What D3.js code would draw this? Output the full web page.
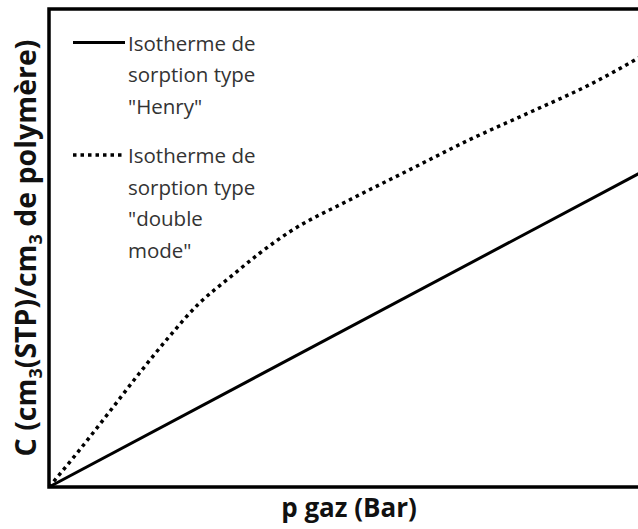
<!DOCTYPE html>
<html>
<head>
<meta charset="utf-8">
<script src="https://cdn.jsdelivr.net/npm/d3@7"></script>
<style>
  html, body { margin: 0; padding: 0; background: #fff; overflow: hidden; }
  svg { display: block; }
  text { font-variant-ligatures: none; }
</style>
</head>
<body>
<svg id="chart" width="638" height="529"></svg>
<script>
// Gas pressure (arbitrary units) and sorbed concentration for the two isotherms
const pressure = [0, 0.5, 1, 1.5, 2, 2.5, 3, 3.5, 4, 5, 6, 7, 8, 9, 10];
const doubleMode = [0, 0.76, 1.56, 2.37, 3.14, 3.84, 4.37, 4.88, 5.33, 6.0, 6.63, 7.26, 7.83, 8.41, 9.1];
const henryPressure = [0, 10];
const henry = [0, 6.67];

const legendHenry = ["Isotherme de", "sorption type", "\"Henry\""];
const legendDouble = ["Isotherme de", "sorption type", "\"double", "mode\""];

const svg = d3.select("#chart");
const margin = { left: 49, top: 9, right: -11, bottom: 42 };
const W = 638, H = 529;
const FONT = "'Open Sans', 'Noto Sans', sans-serif";

const x = d3.scaleLinear().domain([0, 10]).range([margin.left, W - margin.right]);
const y = d3.scaleLinear().domain([0, 10]).range([H - margin.bottom, margin.top]);

const line = d3.line().x(d => x(d[0])).y(d => y(d[1]));

// Henry (linear) isotherm
svg.append("path")
  .datum(d3.zip(henryPressure, henry))
  .attr("d", line)
  .attr("fill", "none")
  .attr("stroke", "#000")
  .attr("stroke-width", 3);

// Dual-mode isotherm
svg.append("path")
  .datum(d3.zip(pressure, doubleMode))
  .attr("d", line.curve(d3.curveMonotoneX))
  .attr("fill", "none")
  .attr("stroke", "#000")
  .attr("stroke-width", 3.5)
  .attr("stroke-dasharray", "3.5 4");

// Frame: left, top and bottom borders (right side runs off the page)
svg.append("path")
  .attr("d", `M${x(10) + 20},${y(10)} H${x(0)} V${y(0)} H${x(10) + 20}`)
  .attr("fill", "none")
  .attr("stroke", "#000")
  .attr("stroke-width", 3.5)
  .attr("stroke-linejoin", "miter");

// Legend
const legend = svg.append("g").attr("font-family", FONT)
  .attr("font-size", 20.5).attr("fill", "#333");

function legendEntry(lines, top, dashed) {
  legend.append("line")
    .attr("x1", 73).attr("x2", 125)
    .attr("y1", top - 8).attr("y2", top - 8)
    .attr("stroke", "#000")
    .attr("stroke-width", dashed ? 3.5 : 3)
    .attr("stroke-dasharray", dashed ? "3.5 4" : null);
  lines.forEach((t, i) => {
    legend.append("text")
      .attr("x", 128)
      .attr("y", top + i * 31.5)
      .text(t);
  });
}
legendEntry(legendHenry, 50.5, false);
legendEntry(legendDouble, 163, true);

// Axis titles
svg.append("text")
  .attr("x", (x(0) + x(10)) / 2)
  .attr("y", 517)
  .attr("text-anchor", "middle")
  .attr("font-family", FONT)
  .attr("font-weight", "bold")
  .attr("font-size", 26)
  .attr("fill", "#111")
  .text("p gaz (Bar)");

const yTitle = svg.append("text")
  .attr("transform", `translate(36,${(y(0) + y(10)) / 2}) rotate(-90)`)
  .attr("text-anchor", "middle")
  .attr("font-family", FONT)
  .attr("font-weight", "bold")
  .attr("font-size", 28.5)
  .attr("fill", "#111");
yTitle.append("tspan").text("C (cm");
yTitle.append("tspan").attr("font-size", 18).attr("dy", 6).text("3");
yTitle.append("tspan").attr("dy", -6).text("(STP)/cm");
yTitle.append("tspan").attr("font-size", 18).attr("dy", 6).text("3");
yTitle.append("tspan").attr("dy", -6).text(" de polymère)");
</script>
</body>
</html>
